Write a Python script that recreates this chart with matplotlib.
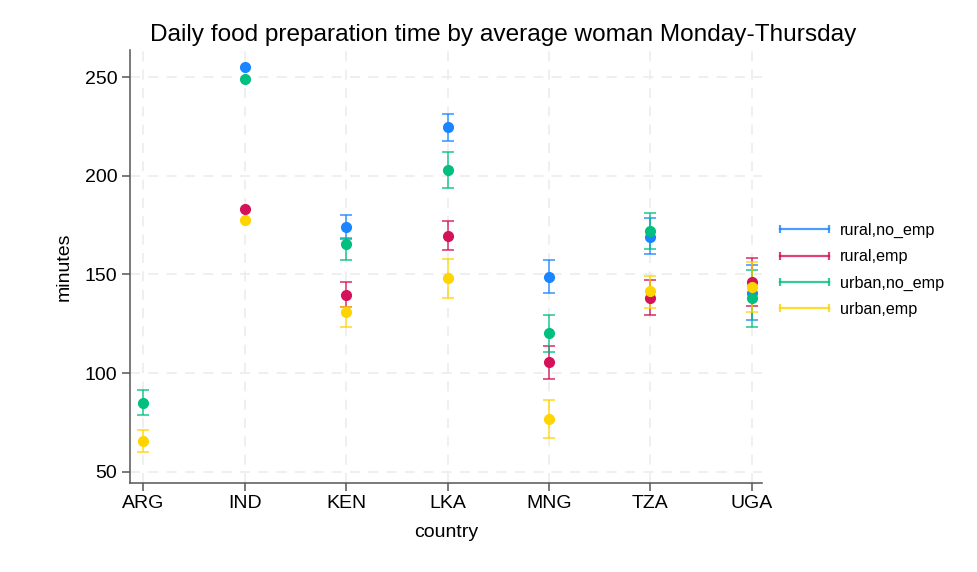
import matplotlib
matplotlib.use("Agg")
import matplotlib.pyplot as plt
from matplotlib.lines import Line2D
import numpy as np

plt.rcParams['font.family'] = ['Liberation Sans', 'DejaVu Sans']

countries = ["ARG", "IND", "KEN", "LKA", "MNG", "TZA", "UGA"]
series = ["rural,no_emp", "rural,emp", "urban,no_emp", "urban,emp"]

# mean, lower CI, upper CI (NaN = not present / not visible)
rural_no_emp_mean = [np.nan, 255.2, 174.2, 224.8, 148.9, 169.1, 140.8]
rural_no_emp_lo   = [np.nan, np.nan, 168.0, 217.8, 140.5, 160.2, 127.0]
rural_no_emp_hi   = [np.nan, np.nan, 180.1, 231.3, 157.3, 178.5, 154.8]

rural_emp_mean = [np.nan, 183.3, 139.8, 169.5, 105.5, 138.0, 146.4]
rural_emp_lo   = [np.nan, np.nan, 133.4, 162.4, 96.9, 129.5, 134.0]
rural_emp_hi   = [np.nan, np.nan, 146.2, 177.1, 113.8, 147.2, 158.2]

urban_no_emp_mean = [85.1, 249.2, 165.3, 203.1, 120.2, 172.2, 138.0]
urban_no_emp_lo   = [79.0, np.nan, 157.2, 194.0, 110.6, 162.9, 123.6]
urban_no_emp_hi   = [91.5, np.nan, 168.5, 212.2, 129.7, 181.3, 152.3]

urban_emp_mean = [65.5, 177.6, 130.9, 148.4, 76.7, 141.6, 143.5]
urban_emp_lo   = [60.1, np.nan, 123.4, 138.3, 67.0, 132.9, 131.2]
urban_emp_hi   = [71.1, np.nan, 133.5, 157.8, 86.5, 149.2, 156.5]

y_ticks = [50, 100, 150, 200, 250]

colors = ["#1a85ff", "#d41159", "#00bf7f", "#ffd400"]

data = [
    (rural_no_emp_mean, rural_no_emp_lo, rural_no_emp_hi),
    (rural_emp_mean, rural_emp_lo, rural_emp_hi),
    (urban_no_emp_mean, urban_no_emp_lo, urban_no_emp_hi),
    (urban_emp_mean, urban_emp_lo, urban_emp_hi),
]

fig = plt.figure(figsize=(9.77, 5.72), dpi=100)
ax = fig.add_axes([0.133, 0.1556, 0.647, 0.757])

x = np.arange(len(countries))
handles = []
for (m, lo, hi), c, name in zip(data, colors, series):
    m = np.array(m); lo = np.array(lo); hi = np.array(hi)
    ok = ~np.isnan(lo)
    yerr = np.vstack([m[ok] - lo[ok], hi[ok] - m[ok]])
    ax.errorbar(x[ok], m[ok], yerr=yerr, fmt='none', ecolor=c, elinewidth=1.3,
                capsize=4, capthick=1.3, alpha=0.75, zorder=2)
    ax.plot(x, m, 'o', color=c, markersize=7, zorder=3)
    handles.append(Line2D([0, 1], [0, 0], color=c, lw=1.6, marker='|',
                          markersize=6, markeredgewidth=1.6, alpha=0.8))

ax.set_xlim(-0.13, 6.1)
ax.set_ylim(44.4, 263.7)
ax.set_xticks(x)
ax.set_xticklabels(countries)
ax.set_yticks(y_ticks)
ax.tick_params(axis='both', labelsize=14, length=6, width=1.1, color='#555555', pad=3)
ax.grid(True, linestyle=(0, (6, 5)), color='#ececec', linewidth=1.2)
ax.set_axisbelow(True)
for s in ['top', 'right']:
    ax.spines[s].set_visible(False)
for s in ['left', 'bottom']:
    ax.spines[s].set_color('#555555')
    ax.spines[s].set_linewidth(1.1)
ax.set_xlabel("country", fontsize=14, labelpad=8)
ax.set_ylabel("minutes", fontsize=14, labelpad=9)
fig.text(0.515, 0.938, "Daily food preparation time by average woman Monday-Thursday",
         ha='center', va='center', fontsize=17.6)

leg = fig.legend(handles, series, loc='center left', bbox_to_anchor=(0.779, 0.528),
                 frameon=False, numpoints=2, handlelength=3.6, fontsize=11.6,
                 labelspacing=0.7, handletextpad=0.4)

fig.savefig("out.png", dpi=100)
